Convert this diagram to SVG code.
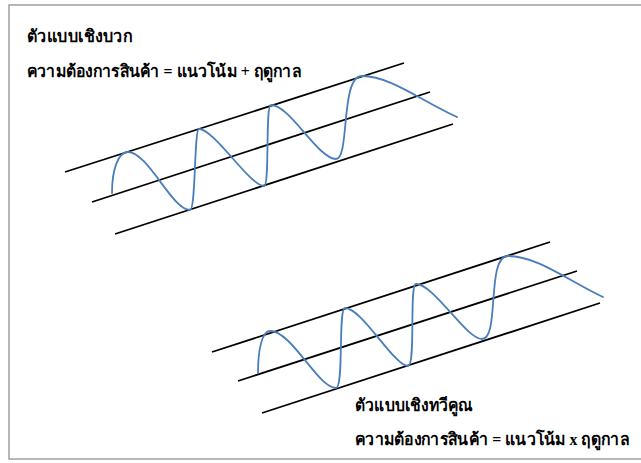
<svg xmlns="http://www.w3.org/2000/svg" width="641" height="463" viewBox="0 0 641 463">
<style>
.frame{fill:none;stroke:#a0a0a0;stroke-width:1.5}
.band{stroke:#000;stroke-width:1.8;fill:none}
.wave{stroke:#4a7ebb;stroke-width:1.8;fill:none;stroke-linecap:round}
.t{font-family:"Liberation Serif","Noto Sans",serif;font-weight:bold;font-size:17px;fill:#000}
</style>
<rect width="641" height="463" fill="#fff"/>
<path class="frame" d="M641 5 H9 V459 H641"/>
<g id="additive">
<g id="additive-bands">
<line class="band" x1="65" y1="172" x2="404" y2="63"/>
<line class="band" x1="92" y1="202" x2="430" y2="92"/>
<line class="band" x1="115" y1="234" x2="453" y2="124"/>
</g>
<path class="wave" d="M112 193 C112 170 118 152 128 152 C148 152 172 210 190 210 C196 210 194 129 199 129 C214 129 250 186 264 186 C270 186 265 105 271 105 C290 105 318 159 336 159 C350 159 340 76 362 76 C390 76 420 100 457 117"/>
<text class="t" x="27" y="42" textLength="105" lengthAdjust="spacingAndGlyphs">ตัวแบบเชิงบวก</text>
<text class="t" x="27" y="77" textLength="274" lengthAdjust="spacingAndGlyphs">ความต้องการสินค้า = แนวโน้ม + ฤดูกาล</text>
</g>
<g id="multiplicative">
<g id="multiplicative-bands">
<line class="band" x1="212" y1="352" x2="550" y2="242"/>
<line class="band" x1="238" y1="381" x2="577" y2="271"/>
<line class="band" x1="262" y1="413" x2="600" y2="303"/>
</g>
<path class="wave" d="M258 373 C258 350 262 331 270 331 C292 331 318 388 336 388 C344 388 338 308 345 308 C362 308 394 366 408 366 C416 366 409 284 416 284 C434 284 466 339 482 339 C500 339 486 256 508 256 C538 256 570 282 603 297"/>
<text class="t" x="355" y="411" textLength="118" lengthAdjust="spacingAndGlyphs">ตัวแบบเชิงทวีคูณ</text>
<text class="t" x="355" y="445" textLength="274" lengthAdjust="spacingAndGlyphs">ความต้องการสินค้า = แนวโน้ม x ฤดูกาล</text>
</g>
</svg>
